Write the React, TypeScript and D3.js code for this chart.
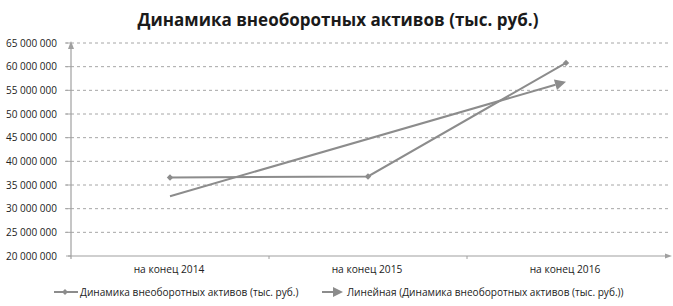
import React from "react";
import * as d3 from "d3";

const categories = ["на конец 2014", "на конец 2015", "на конец 2016"];
const values = [36600000, 36800000, 60800000];
const yTicks = [20000000, 25000000, 30000000, 35000000, 40000000, 45000000, 50000000, 55000000, 60000000, 65000000];
const title = "Динамика внеоборотных активов (тыс. руб.)";
const legendSeries = "Динамика внеоборотных активов (тыс. руб.)";
const legendTrend = "Линейная (Динамика внеоборотных активов (тыс. руб.))";

const W = 673, H = 306;
const left = 71, right = 665, top = 43, bottom = 256;
const col = "#8c8c8c";
const font = "'Open Sans', 'Noto Sans', sans-serif";

export default function App() {
  const x = d3.scaleBand<string>().domain(categories).range([left, right]);
  const y = d3.scaleLinear().domain([20000000, 65000000]).range([bottom, top]);
  const fmt = (v: number) => d3.format(",")(v).replace(/,/g, " ");
  const cx = (c: string) => (x(c) as number) + x.bandwidth() / 2;

  // linear trend (least squares on index 1..n)
  const n = values.length;
  const xs = values.map((_, i) => i + 1);
  const mx = d3.mean(xs) as number, my = d3.mean(values) as number;
  const slope = d3.sum(xs.map((xi, i) => (xi - mx) * (values[i] - my))) / d3.sum(xs.map((xi) => (xi - mx) ** 2));
  const icpt = my - slope * mx;
  const t0 = icpt + slope * 1, t1 = icpt + slope * n;
  const tx0 = cx(categories[0]), tx1 = cx(categories[n - 1]);
  const ty0 = y(t0), ty1 = y(t1);
  const ang = Math.atan2(ty1 - ty0, tx1 - tx0);
  const ah = 11, aw = 5.5;
  const bx = tx1 - ah * Math.cos(ang), by = ty1 - ah * Math.sin(ang);
  const arrowPts = [
    [tx1, ty1],
    [bx + aw * Math.sin(ang), by - aw * Math.cos(ang)],
    [bx - aw * Math.sin(ang), by + aw * Math.cos(ang)],
  ];

  const line = d3.line<number>().x((_, i) => cx(categories[i])).y((v) => y(v));
  const diamond = (px: number, py: number, r = 3.2) =>
    `M${px},${py - r}L${px + r},${py}L${px},${py + r}L${px - r},${py}Z`;

  return (
    <svg width={W} height={H} style={{ position: "absolute", left: 0, top: 0, background: "#fff" }}>
      <text x={338} y={26} textAnchor="middle" fontFamily={font} fontWeight="bold" fontSize={17} fill="#1a1a1a">
        {title}
      </text>
      {yTicks.map((t) => (
        <g key={t}>
          {t > 20000000 && (
            <line x1={left - 6} x2={669} y1={y(t)} y2={y(t)} stroke="#a6a6a6" strokeWidth={1} strokeDasharray="3,3" />
          )}
          <line x1={left - 5} x2={left} y1={y(t)} y2={y(t)} stroke="#a6a6a6" />
          <text x={57} y={y(t) + 3.5} textAnchor="end" fontFamily={font} fontSize={10} fill="#222">
            {fmt(t)}
          </text>
        </g>
      ))}
      {/* y axis with arrow */}
      <line x1={left} x2={left} y1={bottom + 3} y2={top + 2} stroke="#a0a0a0" strokeWidth={1.2} />
      <path d={`M${left},${top - 2}L${left - 3},${top + 6}L${left + 3},${top + 6}Z`} fill="#a0a0a0" />
      {/* x axis with arrow */}
      <line x1={left - 3} x2={667} y1={bottom} y2={bottom} stroke="#a0a0a0" strokeWidth={1.2} />
      <path d={`M${672},${bottom}L${665},${bottom - 2.5}L${665},${bottom + 2.5}Z`} fill="#a0a0a0" />
      {categories.slice(1).map((c) => (
        <line key={c} x1={x(c) as number} x2={x(c) as number} y1={bottom} y2={bottom + 3} stroke="#a0a0a0" />
      ))}
      {categories.map((c) => (
        <text key={c} x={cx(c) - 1} y={273} textAnchor="middle" fontFamily={font} fontSize={10.2} fill="#222">
          {c}
        </text>
      ))}
      {/* trend */}
      <line x1={tx0} y1={ty0} x2={bx} y2={by} stroke={col} strokeWidth={2} />
      <polygon points={arrowPts.map((p) => p.join(",")).join(" ")} fill={col} />
      {/* series */}
      <path d={line(values) as string} fill="none" stroke={col} strokeWidth={2} />
      {values.map((v, i) => (
        <path key={i} d={diamond(cx(categories[i]), y(v))} fill={col} />
      ))}
      {/* legend */}
      <line x1={54} x2={78} y1={292} y2={292} stroke={col} strokeWidth={2} />
      <path d={diamond(65, 292, 3)} fill={col} />
      <text x={80} y={295.5} fontFamily={font} fontSize={10.1} fill="#222">
        {legendSeries}
      </text>
      <line x1={322} x2={334} y1={292} y2={292} stroke={col} strokeWidth={2} />
      <path d="M343,292L333,287L333,297Z" fill={col} />
      <text x={347} y={295.5} fontFamily={font} fontSize={10.1} fill="#222">
        {legendTrend}
      </text>
    </svg>
  );
}
